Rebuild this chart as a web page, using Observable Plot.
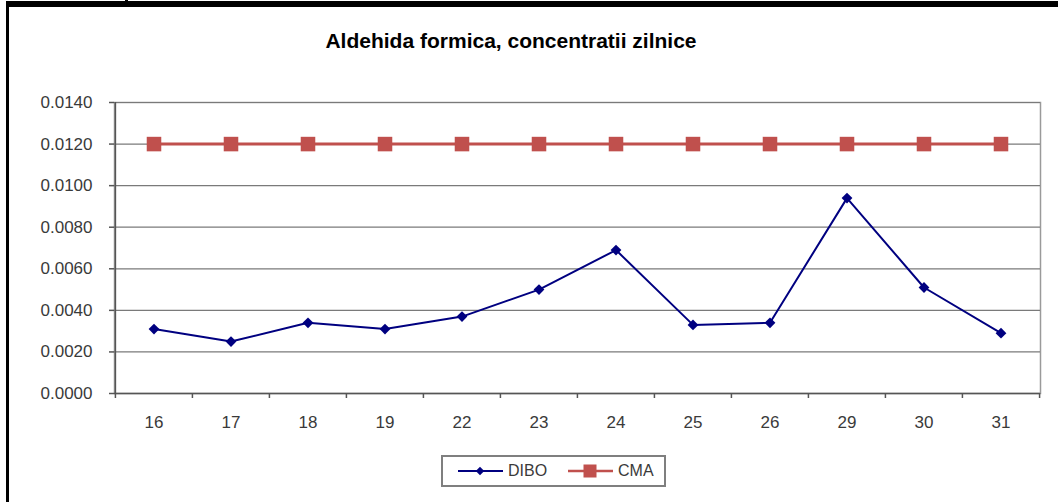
<!DOCTYPE html>
<html>
<head>
<meta charset="utf-8">
<script src="https://cdn.jsdelivr.net/npm/d3@7"></script>
<script src="https://cdn.jsdelivr.net/npm/@observablehq/plot@0.6"></script>
<style>
  html, body { margin: 0; padding: 0; background: #fff; }
  #wrap { position: relative; width: 1058px; height: 502px; overflow: hidden; background: #fff; font-family: "Liberation Sans", Arial, sans-serif; }
  #border { position: absolute; left: 0; top: 0; z-index: 10; pointer-events: none; }
  #title { position: absolute; left: 0; top: 29px; width: 1022px; text-align: center; font-weight: bold; font-size: 21px; color: #000; }
  #chart { position: absolute; left: 0; top: 60px; }
  #chart svg { background: transparent !important; }
  #legend { position: absolute; left: 441px; top: 455px; width: 221px; height: 28px; border: 2px solid #7f7f7f; background: #fff; }
  #legend .item { position: absolute; top: 0; height: 28px; display: flex; align-items: center; font-size: 16px; color: #3a3a3a; }
</style>
</head>
<body>
<div id="wrap">
  <div id="title">Aldehida formica, concentratii zilnice</div>
  <div id="chart"></div>
  <div id="legend"></div>
  <svg id="border" width="1058" height="502">
    <rect x="6" y="1" width="1052" height="6" fill="#000"></rect>
    <rect x="6" y="1" width="3" height="501" fill="#000"></rect>
    <rect x="125" y="0" width="3" height="2" fill="#000"></rect>
  </svg>
</div>
<script>
const days = ["16", "17", "18", "19", "22", "23", "24", "25", "26", "29", "30", "31"];
const dibo = [0.0031, 0.0025, 0.0034, 0.0031, 0.0037, 0.0050, 0.0069, 0.0033, 0.0034, 0.0094, 0.0051, 0.0029];
const cma = [0.012, 0.012, 0.012, 0.012, 0.012, 0.012, 0.012, 0.012, 0.012, 0.012, 0.012, 0.012];
const yTicks = [0, 0.002, 0.004, 0.006, 0.008, 0.010, 0.012, 0.014];
const seriesNames = ["DIBO", "CMA"];
const seriesColors = ["#000080", "#C0504D"];

const data = days.map((d, i) => ({day: d, dibo: dibo[i], cma: cma[i]}));

const W = 1058, H = 390, mL = 114, mR = 18, mT = 42, mB = 57;
const bw = (W - mL - mR) / days.length;

const chart = Plot.plot({
  width: W, height: H,
  marginLeft: mL, marginRight: mR, marginTop: mT, marginBottom: mB,
  style: {fontFamily: "'Liberation Sans', Arial, sans-serif", fontSize: "17px", color: "#3a3a3a", background: "transparent", overflow: "visible"},
  x: {type: "band", domain: days, padding: 0, label: null},
  y: {domain: [0, 0.014], label: null},
  marks: [
    Plot.frame({stroke: "#9a9a9a", strokeWidth: 1.5}),
    Plot.gridY(yTicks, {stroke: "#7a7a7a", strokeOpacity: 1, strokeWidth: 1.2}),
    Plot.ruleX([days[0]], {dx: -bw / 2, y1: 0, y2: 0.014, stroke: "#555", strokeWidth: 1.5}),
    Plot.ruleY([0], {stroke: "#555", strokeWidth: 1.5}),
    Plot.axisY(yTicks, {tickFormat: d => d.toFixed(4), tickSize: 5, tickPadding: 17, stroke: "#555", strokeWidth: 1.5, fill: "#3a3a3a", label: null}),
    Plot.axisX({tickSize: 0, tickPadding: 22, fill: "#3a3a3a", label: null}),
    Plot.axisX({tickSize: 5, tickFormat: () => "", dx: -bw / 2, stroke: "#555", strokeWidth: 1.5, label: null}),
    Plot.axisX([days[days.length - 1]], {tickSize: 5, tickFormat: () => "", dx: bw / 2, stroke: "#555", strokeWidth: 1.5, label: null}),
    Plot.line(data, {x: "day", y: "cma", stroke: seriesColors[1], strokeWidth: 3}),
    Plot.dot(data, {x: "day", y: "cma", symbol: "square", r: 8.2, fill: seriesColors[1], stroke: "none"}),
    Plot.line(data, {x: "day", y: "dibo", stroke: seriesColors[0], strokeWidth: 2}),
    Plot.dot(data, {x: "day", y: "dibo", symbol: "square", rotate: 45, r: 4.3, fill: seriesColors[0], stroke: "none"})
  ]
});
document.getElementById("chart").appendChild(chart);

// Legend
const legend = document.getElementById("legend");
const lx = [15, 125];
seriesNames.forEach((name, i) => {
  const item = document.createElement("div");
  item.className = "item";
  item.style.left = lx[i] + "px";
  const marker = i === 0
    ? `<rect x="19" y="6" width="6" height="6" transform="rotate(45 22 9)" fill="${seriesColors[i]}"/>`
    : `<rect x="15.5" y="2.5" width="13" height="13" fill="${seriesColors[i]}"/>`;
  item.innerHTML = `<svg width="46" height="18" style="margin-right:4px"><line x1="0" x2="45" y1="9" y2="9" stroke="${seriesColors[i]}" stroke-width="${i === 0 ? 2 : 2.5}"/>${marker}</svg><span>${name}</span>`;
  legend.appendChild(item);
});
</script>
</body>
</html>
